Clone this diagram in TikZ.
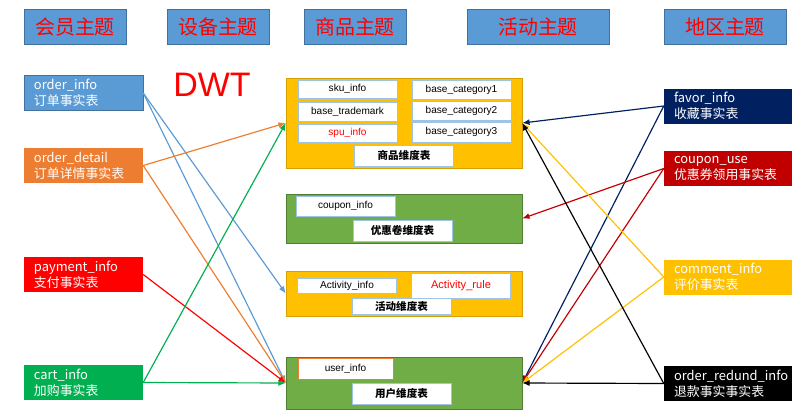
\documentclass[tikz,border=0pt]{standalone}
\usepackage{fontspec}
\setmainfont{Noto Sans CJK SC}
\newfontfamily\arialfont{Liberation Sans}
\usetikzlibrary{arrows.meta, positioning}

\definecolor{themeblue}{HTML}{5B9BD5}
\definecolor{themeedge}{HTML}{41719C}
\definecolor{factorange}{HTML}{ED7D31}
\definecolor{factgreen}{HTML}{00B050}
\definecolor{factnavy}{HTML}{002060}
\definecolor{factdarkred}{HTML}{C00000}
\definecolor{dimyellow}{HTML}{FFC000}
\definecolor{dimyellowedge}{HTML}{D6A000}
\definecolor{dimgreen}{HTML}{70AD47}
\definecolor{dimgreenedge}{HTML}{507E32}
\definecolor{itemedge}{HTML}{9DC3E6}

\begin{document}
\begin{tikzpicture}[
  x=0.3mm, y=-0.3mm,
  theme/.style={draw=themeedge, fill=themeblue, text=red, minimum height=10.5mm,
    inner sep=0pt, font=\fontsize{17}{19}\selectfont},
  fact/.style={fill=#1, text=white, align=left, minimum height=10.5mm, inner ysep=0pt,
    inner xsep=3mm, font=\fontsize{11}{13.5}\selectfont},
  leftfact/.style={fact=#1, text width=29.7mm},
  rightfact/.style={fact=#1, text width=32.4mm},
  dim/.style={draw=#1edge, fill=#1, minimum width=70.8mm, inner sep=0pt},
  item/.style={draw=itemedge, fill=white, minimum width=29.7mm, inner sep=0pt,
    font=\arialfont\fontsize{8.6}{9.5}\selectfont},
  dimlabel/.style={item, font=\bfseries\fontsize{9}{10}\selectfont},
  arrow/.style={-{Latex[length=2.2mm, width=1.8mm]}, line width=1pt}
]
\useasboundingbox (0,0) rectangle (802,412);

% theme headers
\node[theme, minimum width=30.6mm] (tmember) at (75,26.5) {会员主题};
\node[theme, minimum width=30.6mm] (tdevice) at (218,26.5) {设备主题};
\node[theme, minimum width=30.6mm] (tgoods) at (355,26.5) {商品主题};
\node[theme, minimum width=42.6mm] (tactivity) at (538,26.5) {活动主题};
\node[theme, minimum width=36.6mm] (tregion) at (725,26.5) {地区主题};

\node[text=red, font=\arialfont\fontsize{29}{30}\selectfont] (dwt) at (212,85) {DWT};

% fact tables
\node[leftfact=themeblue, draw=themeedge] (orderinfo) at (83.5,93) {order\_info\\订单事实表};
\node[leftfact=factorange] (orderdetail) at (83.5,165.5) {order\_detail\\订单详情事实表};
\node[leftfact=red] (paymentinfo) at (83.5,274.5) {payment\_info\\支付事实表};
\node[leftfact=factgreen] (cartinfo) at (83.5,382.5) {cart\_info\\加购事实表};

\node[rightfact=factnavy] (favorinfo) at (728,106) {favor\_info\\收藏事实表};
\node[rightfact=factdarkred] (couponuse) at (728,168.5) {coupon\_use\\优惠券领用事实表};
\node[rightfact=dimyellow] (commentinfo) at (728,277) {comment\_info\\评价事实表};
\node[rightfact=black] (orderredund) at (728,383.5) {order\_redund\_info\\退款事实事实表};

% dimension tables
\node[dim=dimyellow, minimum height=27mm] (goodsdim) at (404,123) {};
\node[item, minimum height=5.4mm] (skuinfo) at (347.5,89) {sku\_info};
\node[item, minimum height=5.7mm] (basetrademark) at (347.5,111.5) {base\_trademark};
\node[item, minimum height=5.4mm, text=red] (spuinfo) at (347.5,133) {spu\_info};
\node[item, minimum height=5.7mm] (basecat1) at (461.5,89.5) {base\_category1};
\node[item, minimum height=5.7mm] (basecat2) at (461.5,110.5) {base\_category2};
\node[item, minimum height=6mm] (basecat3) at (461.5,132) {base\_category3};
\node[dimlabel, minimum height=6.3mm] (goodslabel) at (404,155.5) {商品维度表};

\node[dim=dimgreen, minimum height=14.7mm] (coupondim) at (404,218.5) {};
\node[item, minimum height=6mm] (couponinfo) at (345.5,206) {coupon\_info};
\node[dimlabel, minimum height=6.3mm] (couponlabel) at (402.5,230.5) {优惠卷维度表};

\node[dim=dimyellow, minimum height=13.5mm] (activitydim) at (404,293.5) {};
\node[item, minimum height=4.5mm] (activityinfo) at (347,285.5) {Activity\_info};
\node[item, minimum height=7.5mm, text=red, font=\arialfont\fontsize{9.5}{10}\selectfont] (activityrule) at (461,285.5) {Activity\_rule};
\node[dimlabel, minimum height=4.8mm] (activitylabel) at (401.5,306) {活动维度表};

\node[dim=dimgreen, minimum height=15.6mm] (userdim) at (404,383) {};
\node[item, draw=factorange, minimum width=28.5mm, minimum height=6.3mm] (userinfo) at (345.5,368.5) {user\_info};
\node[dimlabel, minimum height=6.3mm] (userlabel) at (401.5,393.5) {用户维度表};

% left connections
\draw[arrow, themeblue] (orderinfo.east) -- (activitydim.west);
\draw[arrow, themeblue] (orderinfo.east) -- (userdim.west);
\draw[arrow, factorange] (orderdetail.east) -- (goodsdim.west);
\draw[arrow, factorange] (orderdetail.east) -- (userdim.west);
\draw[arrow, red] (paymentinfo.east) -- (userdim.west);
\draw[arrow, factgreen] (cartinfo.east) -- (goodsdim.west);
\draw[arrow, factgreen] (cartinfo.east) -- (userdim.west);

% right connections
\draw[arrow, factnavy] (favorinfo.west) -- (goodsdim.east);
\draw[arrow, factnavy] (favorinfo.west) -- (userdim.east);
\draw[arrow, factdarkred] (couponuse.west) -- (coupondim.east);
\draw[arrow, factdarkred] (couponuse.west) -- (userdim.east);
\draw[arrow, dimyellow] (commentinfo.west) -- (goodsdim.east);
\draw[arrow, dimyellow] (commentinfo.west) -- (userdim.east);
\draw[arrow, black] (orderredund.west) -- (goodsdim.east);
\draw[arrow, black] (orderredund.west) -- (userdim.east);

\end{tikzpicture}
\end{document}
